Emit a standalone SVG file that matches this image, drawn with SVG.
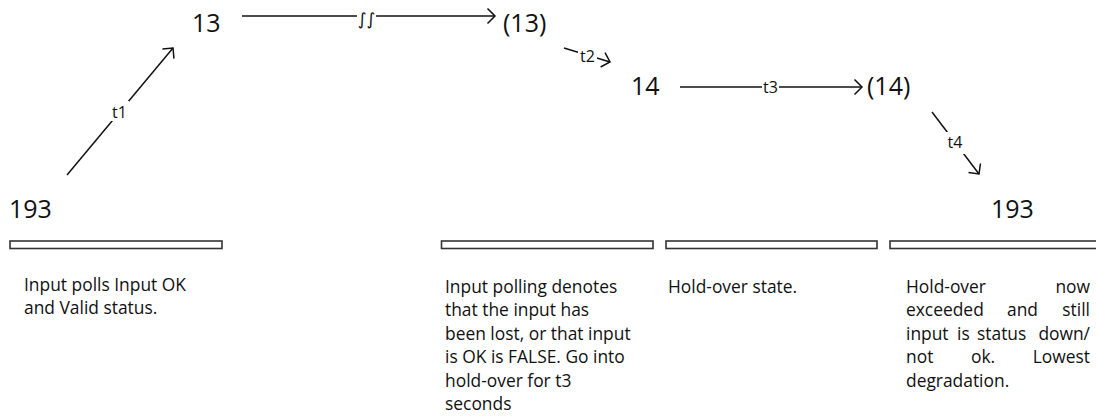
<svg xmlns="http://www.w3.org/2000/svg" width="1096" height="419" viewBox="0 0 1096 419">
  <style>
    .num { font-family: "Open Sans", "Liberation Sans", sans-serif; font-size: 25px; fill: #111; }
    .lbl { font-family: "Open Sans", "Liberation Sans", sans-serif; font-size: 16px; fill: #111; }
    .txt { font-family: "Open Sans", "Liberation Sans", sans-serif; font-size: 17.4px; fill: #111; }
    .wire { fill: none; stroke: #111; stroke-width: 1.5; marker-end: url(#chev); }
    .gap { fill: #fff; stroke: none; }
    .bar { fill: #fff; stroke: #333; stroke-width: 1.6; }
  </style>
  <defs>
    <marker id="chev" markerUnits="userSpaceOnUse" viewBox="-10 -10 20 20" markerWidth="20" markerHeight="20" refX="0" refY="0" orient="auto">
      <path d="M-7.5,-7.5 L0,0 L-7.5,7.5" fill="none" stroke="#111" stroke-width="1.5"/>
    </marker>
  </defs>
  <rect width="1096" height="419" fill="#fff"/>

  <!-- transitions between states -->
  <g id="connectors">
    <path class="wire" d="M67,175 L173,48"/>
    <rect class="gap" x="110" y="101" width="19" height="20"/>
    <text class="lbl" x="119.5" y="118" text-anchor="middle">t1</text>

    <path class="wire" d="M242,16 L495,16"/>
    <rect class="gap" x="357" y="6" width="19" height="22"/>
    <text x="366.5" y="25" text-anchor="middle" font-family="DejaVu Sans, sans-serif" font-size="17" fill="#111">∫∫</text>

    <path class="wire" d="M564,48 L610,62"/>
    <rect class="gap" x="578" y="46" width="19" height="18"/>
    <text class="lbl" x="587.5" y="61.5" text-anchor="middle">t2</text>

    <path class="wire" d="M680,87 L862,87"/>
    <rect class="gap" x="762" y="79" width="17" height="16"/>
    <text class="lbl" x="770.5" y="93" text-anchor="middle">t3</text>

    <path class="wire" d="M932,112 L979,174"/>
    <rect class="gap" x="945" y="132" width="21" height="22"/>
    <text class="lbl" x="955" y="148" text-anchor="middle">t4</text>
  </g>

  <!-- states -->
  <g id="state-193-start"><text class="num" x="9" y="218">193</text></g>
  <g id="state-13"><text class="num" x="192" y="32">13</text></g>
  <g id="state-13-held"><text class="num" x="503" y="32">(13)</text></g>
  <g id="state-14"><text class="num" x="631" y="95">14</text></g>
  <g id="state-14-held"><text class="num" x="867" y="95">(14)</text></g>
  <g id="state-193-end"><text class="num" x="991" y="218">193</text></g>

  <!-- phase bars with descriptions -->
  <g id="phase-polling">
    <rect class="bar" x="10" y="241" width="212" height="7.5"/>
    <text class="txt" x="24" y="291">Input polls Input OK</text>
    <text class="txt" x="24" y="314.4">and Valid status.</text>
  </g>
  <g id="phase-lost">
    <rect class="bar" x="441.5" y="241" width="211.5" height="7.5"/>
    <text class="txt" x="445">
      <tspan x="445" y="293">Input polling denotes</tspan>
      <tspan x="445" y="316.4">that the input has</tspan>
      <tspan x="445" y="339.8">been lost, or that input</tspan>
      <tspan x="445" y="363.2">is OK is FALSE. Go into</tspan>
      <tspan x="445" y="386.6">hold-over for t3</tspan>
      <tspan x="445" y="410">seconds</tspan>
    </text>
  </g>
  <g id="phase-holdover">
    <rect class="bar" x="666" y="241" width="211" height="7.5"/>
    <text class="txt" x="668" y="293">Hold-over state.</text>
  </g>
  <g id="phase-degraded">
    <rect class="bar" x="890" y="241" width="212" height="7.5"/>
    <text class="txt">
      <tspan x="906" y="293">Hold-over</tspan>
      <tspan x="1090" y="293" text-anchor="end">now</tspan>
    </text>
    <text class="txt">
      <tspan x="906" y="316.4">exceeded</tspan>
      <tspan x="1007" y="316.4">and</tspan>
      <tspan x="1090" y="316.4" text-anchor="end">still</tspan>
    </text>
    <text class="txt">
      <tspan x="906" y="339.8">input</tspan>
      <tspan x="957" y="339.8">is</tspan>
      <tspan x="977" y="339.8">status</tspan>
      <tspan x="1090" y="339.8" text-anchor="end">down/</tspan>
    </text>
    <text class="txt">
      <tspan x="906" y="363.2">not</tspan>
      <tspan x="971" y="363.2">ok.</tspan>
      <tspan x="1090" y="363.2" text-anchor="end">Lowest</tspan>
    </text>
    <text class="txt" x="906" y="386.6">degradation.</text>
  </g>
</svg>
